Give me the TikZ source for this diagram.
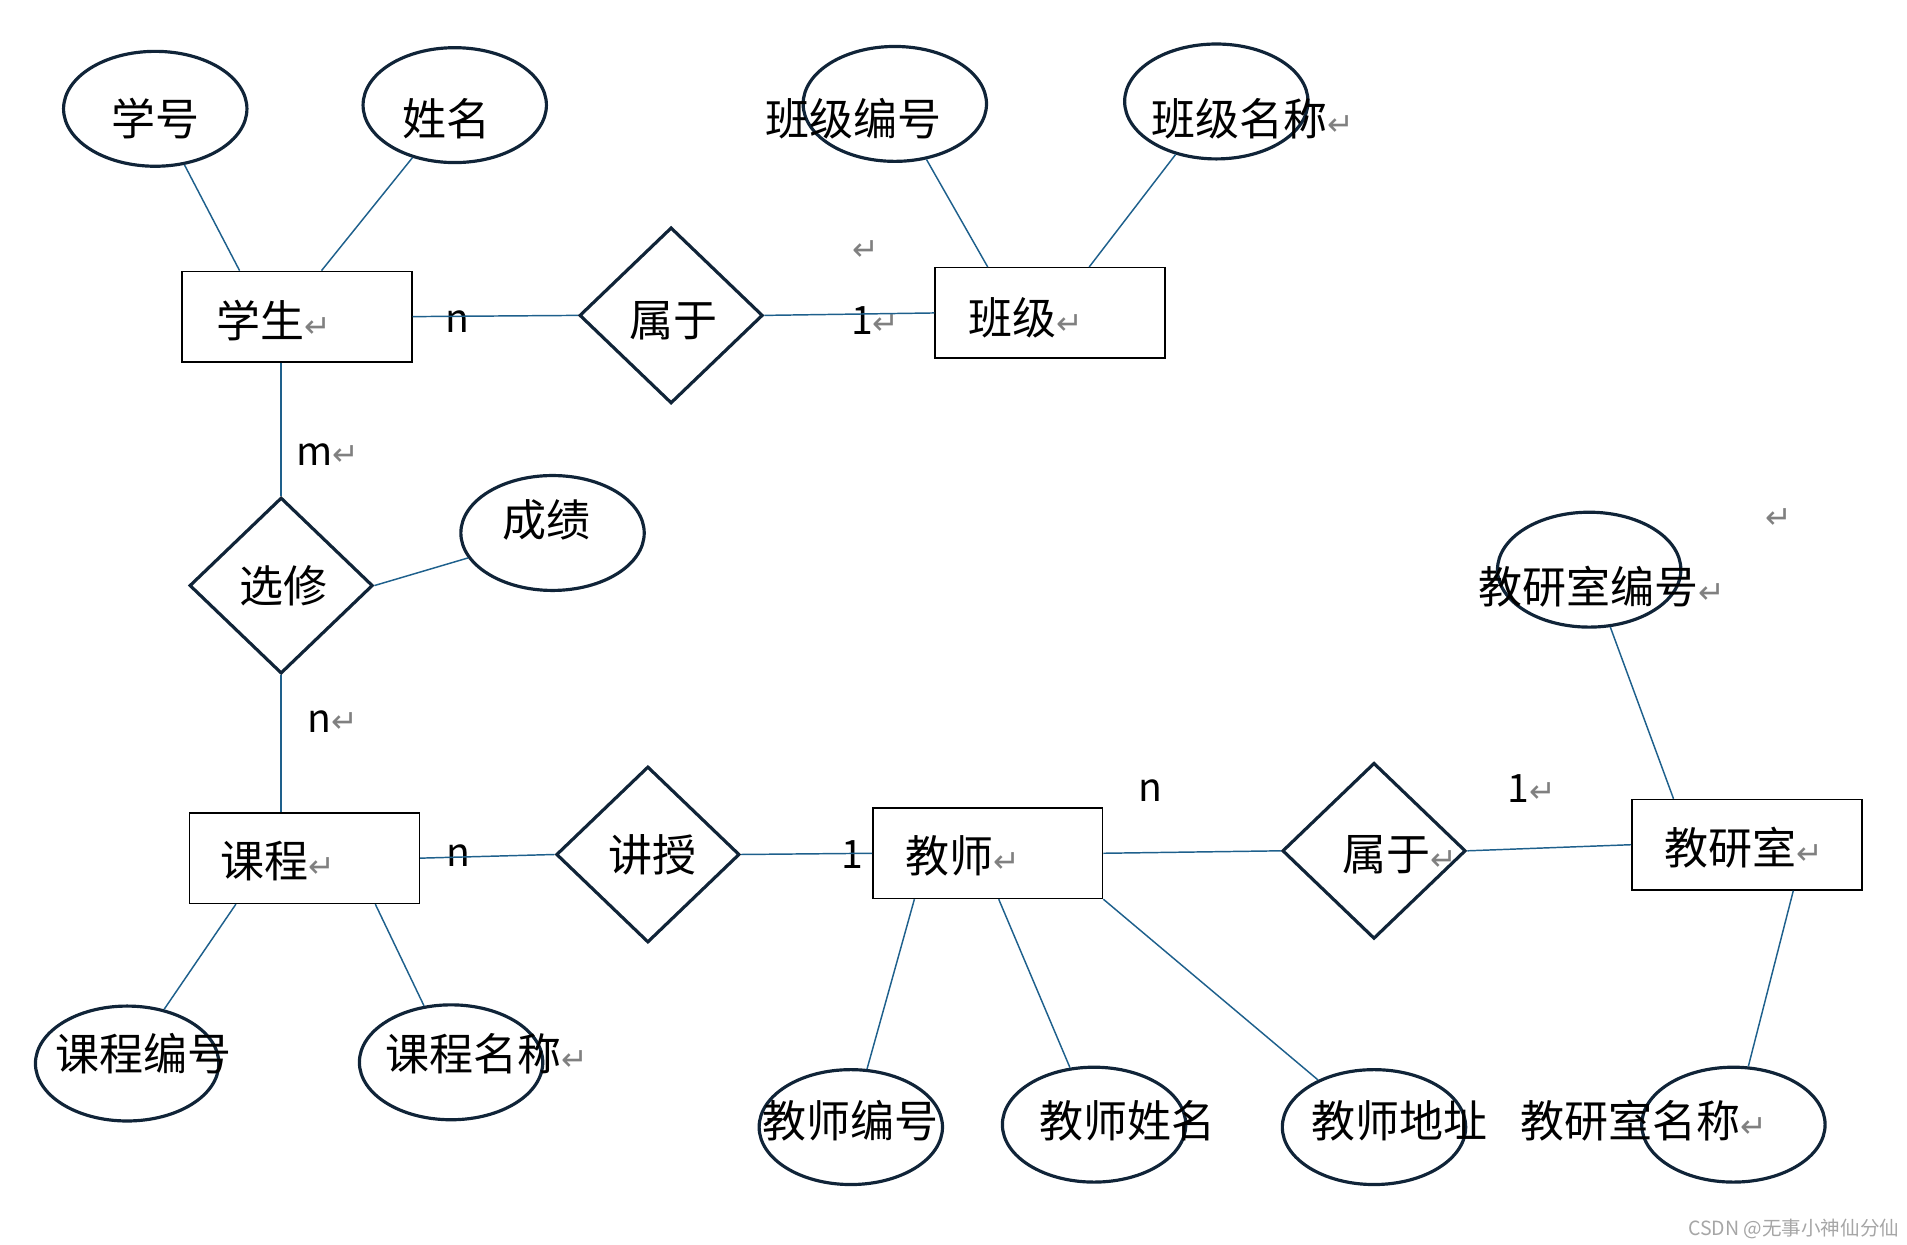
\documentclass[tikz,border=0pt]{standalone}
\usepackage{fontspec}
\setmainfont{Noto Sans CJK SC}
\newfontfamily\symfont{DejaVu Sans}
\usepackage{tikz}
\usetikzlibrary{shapes.geometric, positioning}
\definecolor{navy}{RGB}{16,36,56}
\definecolor{linkblue}{RGB}{30,96,140}
\newcommand{\ret}{{\symfont\color{gray}\fontsize{13}{13}\selectfont ↵}}
\tikzset{
    attr/.style={ellipse, draw=navy, line width=1.3pt, minimum width=75pt, minimum height=47pt, inner sep=0pt},
    entity/.style={rectangle, draw=black, line width=0.6pt, minimum width=94pt, minimum height=37pt},
    relation/.style={diamond, draw=navy, line width=1.3pt, minimum width=75pt, minimum height=72pt, inner sep=0pt},
    label/.style={font=\fontsize{18}{20}\selectfont, inner sep=0pt},
    card/.style={font=\fontsize{16}{18}\selectfont, inner sep=0pt},
    link/.style={draw=linkblue, line width=0.6pt}
}
\begin{document}
\begin{tikzpicture}[x=0.5pt, y=-0.5pt]
    \useasboundingbox (0,0) rectangle (1560,1018);
    % entities
    \node[entity] (student) at (243,259) {};
    \node[label, anchor=west] at (177,262) {学生\ret};
    \node[entity] (class) at (859,256) {};
    \node[label, anchor=west] at (792,260) {班级\ret};
    \node[entity] (course) at (249,702) {};
    \node[label, anchor=west] at (180,704) {课程\ret};
    \node[entity] (teacher) at (808,698) {};
    \node[label, anchor=west] at (740,700) {教师\ret};
    \node[entity] (office) at (1429,691) {};
    \node[label, anchor=west] at (1361,693) {教研室\ret};
    % relations
    \node[relation] (belong) at (549,258) {};
    \node[label] at (551,262) {属于};
    \node[relation] (elect) at (230,479) {};
    \node[label] at (232,479) {选修};
    \node[relation] (teach) at (530,699) {};
    \node[label] at (534,699) {讲授};
    \node[relation] (belongb) at (1124,696) {};
    \node[label] at (1145,699) {属于\ret};
    % attributes
    \node[attr] (sno) at (127,89) {};
    \node[label] at (127,97) {学号};
    \node[attr] (sname) at (372,86) {};
    \node[label] at (365,97) {姓名};
    \node[attr] (cno) at (732,85) {};
    \node[label] at (698,97) {班级编号};
    \node[attr] (cname) at (995,83) {};
    \node[label] at (1025,97) {班级名称\ret};
    \node[attr] (score) at (452,436) {};
    \node[label] at (447,425) {成绩};
    \node[attr] (ono) at (1300,466) {};
    \node[label] at (1310,480) {教研室编号\ret};
    \node[attr] (kno) at (104,870) {};
    \node[label] at (117,862) {课程编号};
    \node[attr] (kname) at (369,869) {};
    \node[label] at (398,862) {课程名称\ret};
    \node[attr] (tno) at (696,922) {};
    \node[label] at (696,917) {教师编号};
    \node[attr] (tname) at (895,920) {};
    \node[label] at (922,917) {教师姓名};
    \node[attr] (taddr) at (1124,922) {};
    \node[label] at (1145,917) {教师地址};
    \node[attr] (oname) at (1418,920) {};
    \node[label] at (1345,917) {教研室名称\ret};
    % cardinalities
    \node[card] at (374,263) {n};
    \node[card] at (716,262) {1\ret};
    \node[card] at (268,372) {m\ret};
    \node[card] at (272,590) {n\ret};
    \node[card] at (375,700) {n};
    \node[card] at (697,699) {1};
    \node[card] at (941,647) {n};
    \node[card] at (1253,645) {1\ret};
    \node at (708,205) {\ret};
    \node at (1455,424) {\ret};
    \node[anchor=south east, inner sep=2pt, font=\fontsize{8}{9}\selectfont, text=gray!70] (mark) at (1558,1018) {CSDN @无事小神仙分仙};
    % connectors
    \draw[link] (sno) -- (student.north -| 196,0);
    \draw[link] (sname) -- (student.north -| 263,0);
    \draw[link] (student.east) -- (belong.west);
    \draw[link] (belong.east) -- (class.west);
    \draw[link] (cno) -- (class.north -| 808,0);
    \draw[link] (cname) -- (class.north -| 891,0);
    \draw[link] (student.south -| elect.north) -- (elect.north);
    \draw[link] (elect.east) -- (score);
    \draw[link] (elect.south) -- (course.north -| elect.south);
    \draw[link] (course.east) -- (teach.west);
    \draw[link] (teach.east) -- (teacher.west);
    \draw[link] (course.south -| 193,0) -- (kno);
    \draw[link] (course.south -| 307,0) -- (kname);
    \draw[link] (teacher.south -| 748,0) -- (tno);
    \draw[link] (teacher.south -| 817,0) -- (tname);
    \draw[link] (teacher.south east) -- (taddr);
    \draw[link] (teacher.east) -- (belongb.west);
    \draw[link] (belongb.east) -- (office.west);
    \draw[link] (office.north -| 1369,0) -- (ono);
    \draw[link] (office.south -| 1467,0) -- (oname);
\end{tikzpicture}
\end{document}
